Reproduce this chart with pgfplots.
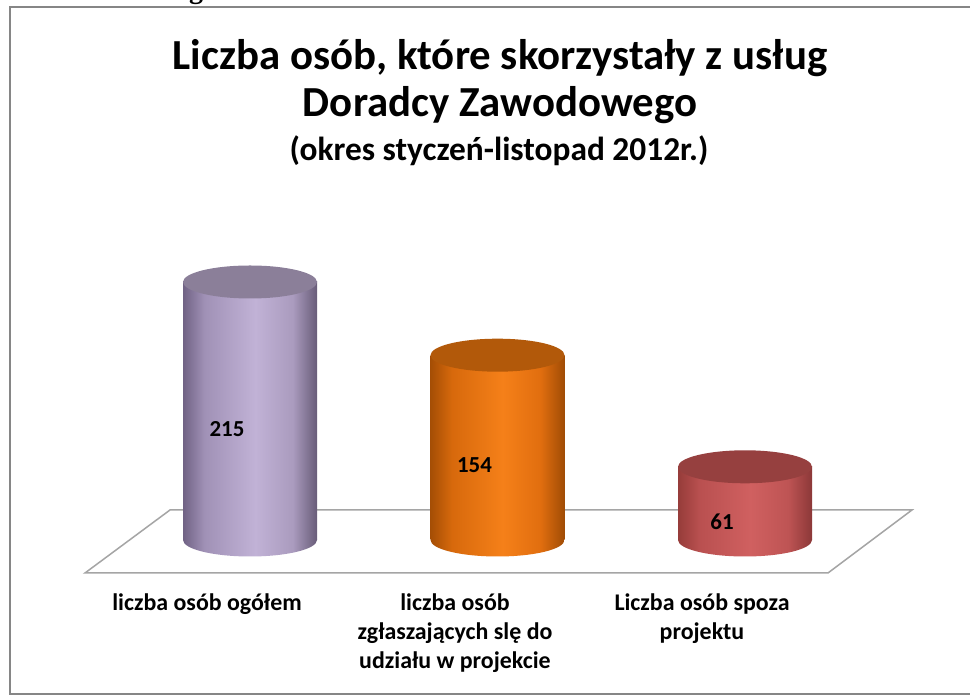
\documentclass[border=0pt]{standalone}
\usepackage{fontspec}
\setmainfont{Carlito}
\newfontfamily\seriffont{Liberation Serif}
\usepackage{pgfplots}
\usepackage{pgfplotstable}
\usetikzlibrary{shapes.geometric}
\pgfplotsset{compat=1.18}

\definecolor{frameGray}{RGB}{134,134,134}
\definecolor{floorGray}{RGB}{165,165,165}
% purple
\definecolor{pA}{RGB}{112,98,132}
\definecolor{pB}{RGB}{160,145,182}
\definecolor{pC}{RGB}{193,178,214}
\definecolor{pD}{RGB}{170,155,190}
\definecolor{pE}{RGB}{104,92,120}
\definecolor{pTop}{RGB}{139,127,153}
% orange
\definecolor{oA}{RGB}{165,78,5}
\definecolor{oB}{RGB}{215,105,12}
\definecolor{oC}{RGB}{245,128,25}
\definecolor{oD}{RGB}{225,110,15}
\definecolor{oE}{RGB}{160,76,5}
\definecolor{oTop}{RGB}{178,89,10}
% red
\definecolor{rA}{RGB}{150,60,58}
\definecolor{rB}{RGB}{185,80,80}
\definecolor{rC}{RGB}{208,96,96}
\definecolor{rD}{RGB}{190,84,84}
\definecolor{rE}{RGB}{140,56,56}
\definecolor{rTop}{RGB}{150,64,63}

\pgfdeclarehorizontalshading{cylP}{100bp}{color(0bp)=(pA); color(25bp)=(pA); color(33bp)=(pB); color(52bp)=(pC); color(66bp)=(pD); color(75bp)=(pE); color(100bp)=(pE)}
\pgfdeclarehorizontalshading{cylO}{100bp}{color(0bp)=(oA); color(25bp)=(oA); color(33bp)=(oB); color(52bp)=(oC); color(66bp)=(oD); color(75bp)=(oE); color(100bp)=(oE)}
\pgfdeclarehorizontalshading{cylR}{100bp}{color(0bp)=(rA); color(25bp)=(rA); color(33bp)=(rB); color(52bp)=(rC); color(66bp)=(rD); color(75bp)=(rE); color(100bp)=(rE)}

\pgfplotstableread{
x v
0 215
1 154
2 61
}\datatable

\pgfplotsset{
  cylbody/.style={ybar, bar shift=0pt, bar width=134bp, draw=none, shading=#1},
  cylcap/.style={draw=none, mark=none, nodes near coords={},
    every node near coord/.append style={ellipse, minimum width=134bp, minimum height=33bp,
      inner sep=0pt, outer sep=0pt, anchor=center, #1}},
}

\begin{document}
\begin{tikzpicture}
\begin{scope}[shift={(0,696bp)}, x=1bp, y=-1bp]
  \fill[white] (0,0) rectangle (970,696);
  \begin{scope}
    \clip (0,0) rectangle (970,696);
    \node[anchor=base, inner sep=0pt, font=\seriffont\bfseries\fontsize{28}{28}\selectfont] at (196,-1) {g};
  \end{scope}
  \draw[frameGray, line width=2bp] (975,7) -- (10,7) -- (10,694) -- (975,694);
  \draw[floorGray, line width=1.5bp, line join=miter] (85,573) -- (170,510) -- (912,510) -- (828,573) -- cycle;
  \node[anchor=base, inner sep=0pt, font=\bfseries\fontsize{43}{43}\selectfont] at (500,70) {Liczba osób, które skorzystały z usług};
  \node[anchor=base, inner sep=0pt, font=\bfseries\fontsize{43}{43}\selectfont] at (500,117) {Doradcy Zawodowego};
  \node[anchor=base, inner sep=0pt, font=\bfseries\fontsize{33.5}{33.5}\selectfont] at (499,161) {(okres styczeń-listopad 2012r.)};
  \begin{scope}[every node/.style={anchor=base, inner sep=0pt, font=\bfseries\fontsize{24}{24}\selectfont}]
    \node at (207,611) {liczba osób ogółem};
    \node at (455,611) {liczba osób};
    \node at (455,640) {zgłaszających slę do};
    \node at (455,669) {udziału w projekcie};
    \node at (702,611) {Liczba osób spoza};
    \node at (702,640) {projektu};
  \end{scope}
\end{scope}

\begin{axis}[at={(0,0)}, anchor=south west, width=970bp, height=696bp, scale only axis,
  xmin=-1.010101, xmax=2.909091, ymin=-130, ymax=450, hide axis, clip=false,
  /pgf/number format/assume math mode=true]
  % purple cylinder
  \addplot[cylcap={shading=cylP}, y filter/.expression={0}] coordinates {(0,215)};
  \addplot[cylbody=cylP] coordinates {(0,215)};
  \addplot[cylcap={fill=pTop}] coordinates {(0,215)};
  % orange cylinder
  \addplot[cylcap={shading=cylO}, y filter/.expression={0}] coordinates {(1,154)};
  \addplot[cylbody=cylO] coordinates {(1,154)};
  \addplot[cylcap={fill=oTop}] coordinates {(1,154)};
  % red cylinder
  \addplot[cylcap={shading=cylR}, y filter/.expression={0}] coordinates {(2,61)};
  \addplot[cylbody=cylR] coordinates {(2,61)};
  \addplot[cylcap={fill=rTop}] coordinates {(2,61)};
  % value labels
  \addplot[draw=none, mark=none, point meta=explicit, nodes near coords,
    every node near coord/.append style={anchor=center, inner sep=0pt, xshift=-23bp,
      font=\bfseries\fontsize{23}{23}\selectfont}]
    table[x=x, y expr=\thisrow{v}/2-15, meta=v] {\datatable};
\end{axis}
\pgfresetboundingbox
\path (0,0) rectangle (970bp,696bp);
\end{tikzpicture}
\end{document}
